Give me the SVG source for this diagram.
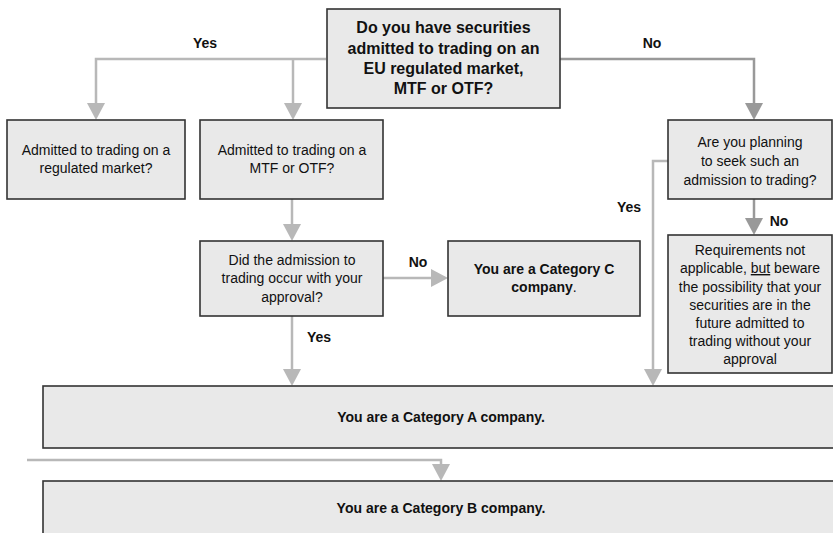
<svg xmlns="http://www.w3.org/2000/svg" width="833" height="533" viewBox="0 0 833 533">
<style>
.box{fill:#e9e9e9;stroke:#333;stroke-width:1.6}
.t{font-family:"Liberation Sans",Arial,sans-serif;font-size:14px;fill:#111;text-anchor:middle}
.b{font-weight:bold}
.big{font-size:16px}
.c{fill:none;stroke:#b8b8b8;stroke-width:2.5}
.d{fill:none;stroke:#999;stroke-width:2.5}
</style>
<defs>
<marker id="al" markerUnits="userSpaceOnUse" markerWidth="18" markerHeight="18" refX="7" refY="9" orient="auto"><path d="M0,0 L17,9 L0,18 z" fill="#b8b8b8"/></marker>
<marker id="ad" markerUnits="userSpaceOnUse" markerWidth="18" markerHeight="18" refX="7" refY="9" orient="auto"><path d="M0,0 L17,9 L0,18 z" fill="#999"/></marker>
</defs>
<rect width="833" height="533" fill="#fff"/>
<g id="connectors">
<path class="c" d="M326,59 H96 V110" marker-end="url(#al)"/>
<path class="c" d="M293,59 V110" marker-end="url(#al)"/>
<path class="c" d="M292,199 V231" marker-end="url(#al)"/>
<path class="c" d="M292,316 V376" marker-end="url(#al)"/>
<path class="c" d="M383,278 H438" marker-end="url(#al)"/>
<path class="d" d="M560,59 H754 V110" marker-end="url(#ad)"/>
<path class="d" d="M754,199 V225" marker-end="url(#ad)"/>
<path class="c" d="M668,161 H653 V376" marker-end="url(#al)"/>
<path class="c" d="M27,460 H441 V471" marker-end="url(#al)"/>
<text class="t b" x="205" y="48">Yes</text>
<text class="t b" x="652" y="48">No</text>
<text class="t b" x="418" y="267">No</text>
<text class="t b" x="319" y="342">Yes</text>
<text class="t b" x="629" y="212">Yes</text>
<text class="t b" x="779" y="226">No</text>
</g>
<g id="q1">
<rect class="box" x="327" y="9" width="233" height="99"/>
<text class="t b big" x="443.5" y="33">Do you have securities</text>
<text class="t b big" x="443.5" y="54">admitted to trading on an</text>
<text class="t b big" x="443.5" y="74">EU regulated market,</text>
<text class="t b big" x="443.5" y="94">MTF or OTF?</text>
</g>
<g id="regulated">
<rect class="box" x="7" y="120" width="178" height="79"/>
<text class="t" x="96" y="155">Admitted to trading on a</text>
<text class="t" x="96" y="173">regulated market?</text>
</g>
<g id="mtf">
<rect class="box" x="200" y="120" width="183" height="79"/>
<text class="t" x="292" y="155">Admitted to trading on a</text>
<text class="t" x="292" y="173">MTF or OTF?</text>
</g>
<g id="approval">
<rect class="box" x="200" y="241" width="183" height="75"/>
<text class="t" x="292" y="265">Did the admission to</text>
<text class="t" x="292" y="283">trading occur with your</text>
<text class="t" x="292" y="302">approval?</text>
</g>
<g id="catC">
<rect class="box" x="448" y="241" width="192" height="75"/>
<text class="t b" x="544" y="274">You are a Category C</text>
<text class="t" x="544" y="292"><tspan class="b">company</tspan>.</text>
</g>
<g id="planning">
<rect class="box" x="668" y="120" width="164" height="79"/>
<text class="t" x="750" y="147">Are you planning</text>
<text class="t" x="750" y="166">to seek such an</text>
<text class="t" x="750" y="185">admission to trading?</text>
</g>
<g id="notapplicable">
<rect class="box" x="668" y="235" width="164" height="138"/>
<text class="t" x="750" y="255">Requirements not</text>
<text class="t" x="750" y="273">applicable, <tspan text-decoration="underline">but</tspan> beware</text>
<text class="t" x="750" y="291.5">the possibility that your</text>
<text class="t" x="750" y="310">securities are in the</text>
<text class="t" x="750" y="328">future admitted to</text>
<text class="t" x="750" y="346">trading without your</text>
<text class="t" x="750" y="364">approval</text>
</g>
<g id="catA">
<rect class="box" x="43" y="386" width="800" height="62"/>
<text class="t b" x="441" y="422">You are a Category A company.</text>
</g>
<g id="catB">
<rect class="box" x="43" y="481" width="800" height="70"/>
<text class="t b" x="441" y="513">You are a Category B company.</text>
</g>
</svg>
